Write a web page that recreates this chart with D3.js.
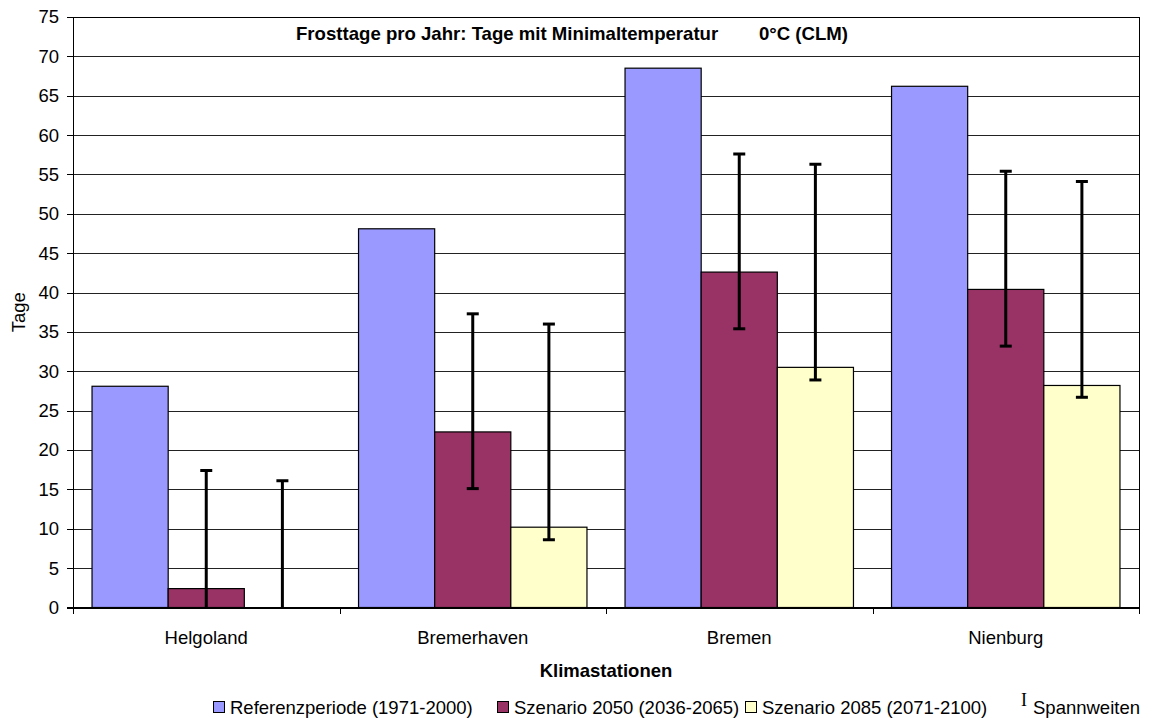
<!DOCTYPE html>
<html>
<head>
<meta charset="utf-8">
<script src="https://cdn.jsdelivr.net/npm/d3@7"></script>
<style>
  body { margin: 0; background: #fff; }
  svg { display: block; font-family: Arial, "Liberation Sans", sans-serif; }
  .grid line { stroke: #222; shape-rendering: crispEdges; }
  .axis text { font-size: 18.5px; fill: #000; }
  .axis path, .axis line { stroke: #000; shape-rendering: crispEdges; }
</style>
</head>
<body>
<div class="contents"></div>
<script>
var categories = ["Helgoland", "Bremerhaven", "Bremen", "Nienburg"];
var seriesNames = ["Referenzperiode (1971-2000)", "Szenario 2050 (2036-2065)", "Szenario 2085 (2071-2100)"];
var referenz = [28.1, 48.1, 68.5, 66.2];
var szenario2050 = [2.4, 22.3, 42.6, 40.4];
var szenario2085 = [0, 10.2, 30.5, 28.2];
// Spannweiten (min / max)
var low2050 = [0, 15.1, 35.4, 33.2];
var high2050 = [17.4, 37.3, 57.6, 55.4];
var low2085 = [0, 8.6, 28.9, 26.7];
var high2085 = [16.1, 36.0, 56.3, 54.1];
var yTicks = [0, 5, 10, 15, 20, 25, 30, 35, 40, 45, 50, 55, 60, 65, 70, 75];

var colors = ["#9999ff", "#993366", "#ffffcc"];

var svgWidth = 1153, svgHeight = 718;
var margin = { top: 17, right: 14, bottom: 110.5, left: 73 };
var width = svgWidth - margin.left - margin.right;
var height = svgHeight - margin.top - margin.bottom;

var rows = categories.map(function(c, i) {
    return {
        name: c,
        values: [
            { s: 0, v: referenz[i] },
            { s: 1, v: szenario2050[i], lo: low2050[i], hi: high2050[i] },
            { s: 2, v: szenario2085[i], lo: low2085[i], hi: high2085[i] }
        ]
    };
});

var svg = d3.select(".contents").append("svg")
    .attr("width", svgWidth)
    .attr("height", svgHeight);

svg.append("rect")
    .attr("width", svgWidth)
    .attr("height", svgHeight)
    .attr("fill", "#fff");

var g = svg.append("g")
    .attr("transform", "translate(" + margin.left + "," + margin.top + ")");

var x0 = d3.scaleBand().domain(categories).range([0, width]);
// Excel gap width of 50%
var barW = x0.bandwidth() / 3.5;
var x1 = d3.scaleBand().domain([0, 1, 2])
    .range([barW * 0.25, x0.bandwidth() - barW * 0.25]);
var y = d3.scaleLinear().domain([0, 75]).range([height, 0]);

// Gridlines
g.append("g")
    .attr("class", "grid")
    .selectAll("line")
    .data(yTicks)
    .enter().append("line")
    .attr("x1", 0)
    .attr("x2", width)
    .attr("y1", function(d) { return Math.round(y(d)) + 0.5; })
    .attr("y2", function(d) { return Math.round(y(d)) + 0.5; });

// Plot area border
g.append("rect")
    .attr("x", 0.5)
    .attr("y", 0.5)
    .attr("width", width)
    .attr("height", height)
    .attr("fill", "none")
    .attr("stroke", "#000")
    .attr("shape-rendering", "crispEdges");

// Clipping zone
g.append("defs").append("clipPath")
    .attr("id", "clip")
    .append("rect")
    .attr("width", width)
    .attr("height", height);

var dataGroup = g.append("g").attr("clip-path", "url(#clip)");

var groups = dataGroup.selectAll(".cat")
    .data(rows)
    .enter().append("g")
    .attr("class", "cat")
    .attr("transform", function(d) { return "translate(" + x0(d.name) + ",0)"; });

groups.selectAll("rect")
    .data(function(d) { return d.values.filter(function(v) { return v.v > 0; }); })
    .enter().append("rect")
    .attr("x", function(d) { return x1(d.s); })
    .attr("y", function(d) { return y(d.v); })
    .attr("width", x1.bandwidth())
    .attr("height", function(d) { return height - y(d.v); })
    .attr("fill", function(d) { return colors[d.s]; })
    .attr("stroke", "#000")
    .attr("stroke-width", 1.2);

// Error bars
var errs = groups.selectAll(".err")
    .data(function(d) { return d.values.filter(function(v) { return v.hi != null; }); })
    .enter().append("g")
    .attr("class", "err")
    .attr("stroke", "#000")
    .attr("stroke-width", 3);

errs.append("line")
    .attr("x1", function(d) { return x1(d.s) + x1.bandwidth() / 2; })
    .attr("x2", function(d) { return x1(d.s) + x1.bandwidth() / 2; })
    .attr("y1", function(d) { return y(d.lo); })
    .attr("y2", function(d) { return y(d.hi); });

// no cap drawn where the range hits the axis
errs.selectAll(".cap")
    .data(function(d) {
        return [{ s: d.s, v: d.lo }, { s: d.s, v: d.hi }].filter(function(c) { return c.v > 0; });
    })
    .enter().append("line")
    .attr("class", "cap")
    .attr("x1", function(d) { return x1(d.s) + x1.bandwidth() / 2 - 6; })
    .attr("x2", function(d) { return x1(d.s) + x1.bandwidth() / 2 + 6; })
    .attr("y1", function(d) { return y(d.v); })
    .attr("y2", function(d) { return y(d.v); });

// Y axis
g.append("g")
    .attr("class", "y axis")
    .call(d3.axisLeft(y).tickValues(yTicks).tickSize(6).tickPadding(8))
    .call(function(a) { a.select(".domain").attr("stroke-width", 1.5); });

// X axis: line + ticks at category boundaries
var xa = g.append("g")
    .attr("class", "x axis")
    .attr("transform", "translate(0," + height + ")");

xa.append("line")
    .attr("x1", 0)
    .attr("x2", width)
    .attr("stroke-width", 2);

xa.selectAll(".tick")
    .data(d3.range(categories.length + 1))
    .enter().append("line")
    .attr("class", "tick")
    .attr("x1", function(i) { return Math.round(i * x0.step()) + 0.5; })
    .attr("x2", function(i) { return Math.round(i * x0.step()) + 0.5; })
    .attr("y1", 0)
    .attr("y2", 6);

xa.selectAll(".label")
    .data(categories)
    .enter().append("text")
    .attr("class", "label")
    .attr("x", function(d) { return x0(d) + x0.bandwidth() / 2; })
    .attr("y", 36.5)
    .style("text-anchor", "middle")
    .text(function(d) { return d; });

xa.append("text")
    .attr("x", width / 2)
    .attr("y", 69)
    .style("text-anchor", "middle")
    .style("font-weight", "bold")
    .text("Klimastationen");

// Y label
svg.append("text")
    .attr("transform", "translate(25," + (margin.top + y(37.5)) + ") rotate(-90)")
    .style("text-anchor", "middle")
    .style("font-size", "18.5px")
    .text("Tage");

// Title
svg.append("text")
    .attr("x", 296)
    .attr("y", 40)
    .style("font-size", "18.6px")
    .style("font-weight", "bold")
    .text("Frosttage pro Jahr: Tage mit Minimaltemperatur");

svg.append("text")
    .attr("x", 848)
    .attr("y", 40)
    .style("font-size", "18.6px")
    .style("font-weight", "bold")
    .style("text-anchor", "end")
    .text("0°C (CLM)");

// Legend
var legendX = [213, 497, 745];
var legend = svg.append("g").attr("class", "legend")
    .attr("transform", "translate(0,714)");
seriesNames.forEach(function(name, i) {
    legend.append("rect")
        .attr("x", legendX[i] + 0.5)
        .attr("y", -12.5)
        .attr("width", 11)
        .attr("height", 11)
        .attr("fill", colors[i])
        .attr("stroke", "#000");
    legend.append("text")
        .attr("x", legendX[i] + 17)
        .attr("y", 0)
        .style("font-size", "18.5px")
        .text(name);
});
legend.append("text")
    .attr("x", 1021)
    .attr("y", -8)
    .style("font-family", "'Liberation Serif', 'Times New Roman', serif")
    .style("font-size", "18px")
    .text("I");
legend.append("text")
    .attr("x", 1033)
    .attr("y", 0)
    .style("font-size", "18.5px")
    .text("Spannweiten");
</script>
</body>
</html>
